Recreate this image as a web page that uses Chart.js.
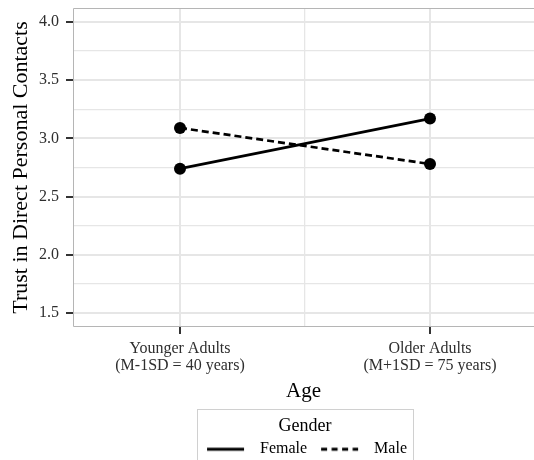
<!DOCTYPE html>
<html>
<head>
<meta charset="utf-8">
<script src="https://cdn.jsdelivr.net/npm/chart.js@4.4.1/dist/chart.umd.min.js"></script>
<style>
  html, body { margin: 0; padding: 0; background: #fff; }
  #chart { display: block; }
</style>
</head>
<body>
<canvas id="chart" width="534" height="460"></canvas>
<script>
const ageX = [1, 2];
const ageLabels = [
  ["Younger Adults", "(M-1SD = 40 years)"],
  ["Older Adults", "(M+1SD = 75 years)"],
];
const xMinor = [1.5];
const femaleValues = [2.74, 3.17];
const maleValues = [3.09, 2.78];
const yMajor = [1.5, 2.0, 2.5, 3.0, 3.5, 4.0];
const yTickLabels = ["1.5", "2.0", "2.5", "3.0", "3.5", "4.0"];
const yMinor = [1.75, 2.25, 2.75, 3.25, 3.75];
const seriesNames = ["Female", "Male"];

const serif = "'Liberation Serif', 'Times New Roman', serif";
const gridColor = "#e6e6e6";
const tickMarkColor = "#333333";
const labelColor = "#2e2e2e";

Chart.defaults.font.family = serif;

function legendSwatch(dash) {
  const c = document.createElement("canvas");
  c.width = 49;
  c.height = 8;
  const ctx = c.getContext("2d");
  ctx.strokeStyle = "#000";
  ctx.lineWidth = 2.8;
  ctx.setLineDash(dash);
  ctx.beginPath();
  ctx.moveTo(4, 4);
  ctx.lineTo(41, 4);
  ctx.stroke();
  return c;
}

function toPoints(values) {
  return values.map((v, i) => ({ x: ageX[i], y: v }));
}

const isMajorX = (v) => ageX.includes(v);
const isMajorY = (v) => yMajor.includes(v);

// ggplot-style panel border (right side is cropped in the reference)
const panelBorder = {
  id: "panelBorder",
  beforeDatasetsDraw(chart) {
    const { ctx, chartArea: a } = chart;
    ctx.save();
    ctx.strokeStyle = "#b5b5b5";
    ctx.lineWidth = 1;
    ctx.beginPath();
    ctx.moveTo(chart.width, a.top + 0.5);
    ctx.lineTo(a.left + 0.5, a.top + 0.5);
    ctx.lineTo(a.left + 0.5, a.bottom - 0.5);
    ctx.lineTo(chart.width, a.bottom - 0.5);
    ctx.stroke();
    ctx.restore();
  },
};

// move legend under the panel centre and frame it
const legendBox = {
  id: "legendBox",
  afterLayout(chart) {
    const lg = chart.legend;
    lg.left += 38;
    lg.right += 38;
    lg.top += 7.2;
    lg.bottom += 7.2;
  },
  afterDraw(chart) {
    const lg = chart.legend;
    const cx = (lg.left + lg.right) / 2;
    const ctx = chart.ctx;
    ctx.save();
    ctx.strokeStyle = "#d0d0d0";
    ctx.lineWidth = 1;
    ctx.strokeRect(Math.round(cx - 108) + 0.5, Math.round(lg.top) + 0.5, 216, 80);
    ctx.restore();
  },
};

new Chart(document.getElementById("chart"), {
  type: "line",
  data: {
    datasets: [
      {
        label: seriesNames[0],
        data: toPoints(femaleValues),
        borderColor: "#000",
        backgroundColor: "#000",
        borderWidth: 2.7,
        pointRadius: 6,
        pointBorderWidth: 0,
      },
      {
        label: seriesNames[1],
        data: toPoints(maleValues),
        borderColor: "#000",
        backgroundColor: "#000",
        borderWidth: 2.7,
        borderDash: [7, 4],
        pointRadius: 6,
        pointBorderWidth: 0,
      },
    ],
  },
  options: {
    responsive: false,
    animation: false,
    layout: { autoPadding: false, padding: { top: 8, left: 0, right: 0, bottom: 0 } },
    scales: {
      x: {
        type: "linear",
        min: 0.572,
        max: 2.416,
        afterBuildTicks: (scale) => {
          scale.ticks = ageX.concat(xMinor).sort().map((v) => ({ value: v }));
        },
        afterFit: (scale) => {
          scale.height = 74.8;
        },
        border: { display: false },
        grid: {
          color: gridColor,
          lineWidth: (c) => (isMajorX(c.tick.value) ? 2 : 1.3),
          tickColor: (c) => (isMajorX(c.tick.value) ? tickMarkColor : "rgba(0,0,0,0)"),
          tickWidth: 2,
          tickLength: 7,
        },
        ticks: {
          autoSkip: false,
          maxRotation: 0,
          padding: 6,
          color: labelColor,
          font: { size: 16, lineHeight: 1.07 },
          callback: (v) => {
            const i = ageX.indexOf(v);
            return i >= 0 ? ageLabels[i] : "";
          },
        },
        title: {
          display: true,
          text: "Age",
          color: "#000",
          font: { size: 21, lineHeight: 1 },
          padding: { top: 0, bottom: 0 },
        },
      },
      y: {
        min: 1.38,
        max: 4.12,
        afterBuildTicks: (scale) => {
          scale.ticks = yMajor.concat(yMinor).sort((a, b) => a - b).map((v) => ({ value: v }));
        },
        afterFit: (scale) => {
          scale.width = 73;
        },
        border: { display: false },
        grid: {
          color: gridColor,
          lineWidth: (c) => (isMajorY(c.tick.value) ? 2 : 1.3),
          tickColor: (c) => (isMajorY(c.tick.value) ? tickMarkColor : "rgba(0,0,0,0)"),
          tickWidth: 2,
          tickLength: 7,
        },
        ticks: {
          autoSkip: false,
          padding: 7,
          color: labelColor,
          // tiny line height keeps Chart.js from reserving space above the top label
          font: { size: 16, lineHeight: 0.05 },
          callback: (v) => {
            const i = yMajor.indexOf(v);
            return i >= 0 ? yTickLabels[i] : "";
          },
        },
        title: {
          display: true,
          text: "Trust in Direct Personal Contacts",
          color: "#000",
          font: { size: 22, lineHeight: 1.2 },
          padding: { top: 8, bottom: 0 },
        },
      },
    },
    plugins: {
      tooltip: { enabled: false },
      legend: {
        position: "bottom",
        title: {
          display: true,
          text: "Gender",
          color: "#000",
          font: { size: 18, lineHeight: 0.8 },
          padding: { top: 7.8, bottom: 0 },
        },
        labels: {
          usePointStyle: true,
          pointStyleWidth: 49,
          padding: 10,
          color: "#000",
          font: { size: 16 },
          generateLabels: () => [
            { text: seriesNames[0], pointStyle: legendSwatch([]), lineWidth: 0, datasetIndex: 0, hidden: false, fontColor: "#000" },
            { text: seriesNames[1], pointStyle: legendSwatch([6, 4.5]), lineWidth: 0, datasetIndex: 1, hidden: false, fontColor: "#000" },
          ],
        },
      },
    },
  },
  plugins: [panelBorder, legendBox],
});
</script>
</body>
</html>
